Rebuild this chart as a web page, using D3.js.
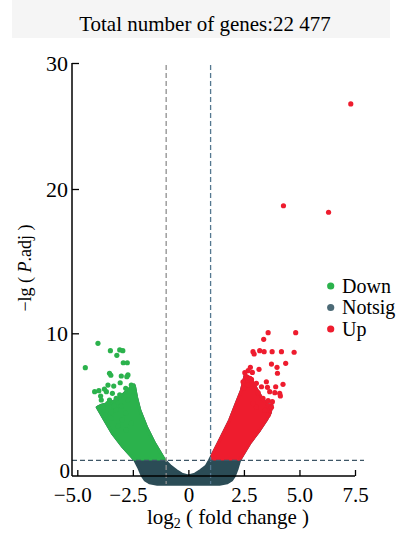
<!DOCTYPE html>
<html>
<head>
<meta charset="utf-8">
<script src="https://cdn.jsdelivr.net/npm/d3@7/dist/d3.min.js"></script>
<style>
  html, body { margin: 0; padding: 0; background: #fff; }
  svg { display: block; }
  text { font-family: "Liberation Serif", "DejaVu Serif", serif; fill: #000; }
</style>
</head>
<body>
<svg id="chart" width="401" height="534"></svg>
<script>
// ---------------- data ----------------
const titleText = "Total number of genes:22 477";
const xTicks = [-5, -2.5, 0, 2.5, 5, 7.5];
const xTickLabels = ["\u22125.0", "\u22122.5", "0", "2.5", "5.0", "7.5"];
const yTicks = [0, 10, 20, 30];
const yTickLabels = ["0", "10", "20", "30"];
const fcThresholds = [-1, 1];
const padjThreshold = 1.15;
const legendLabels = ["Down", "Notsig", "Up"];
const legendColors = ["#2bb24c", "#4c6a76", "#ee1c2e"];

// outline of the densely packed part of the cloud (log2FC, -lg Padj)
const denseOutline = [
  [-2.45, 6.4], [-2.8, 5.95], [-3.1, 5.5], [-3.5, 5.15], [-3.9, 5.0], [-4.1, 4.85],
  [-3.77, 3.96], [-3.4, 3.0], [-2.95, 2.1], [-2.41, 1.18], [-2.22, 0.6], [-2.08, 0.1],
  [-1.95, -0.2], [-1.75, -0.4], [-1.4, -0.5],
  [1.4, -0.5], [1.75, -0.4], [1.95, -0.2], [2.08, 0.1], [2.2, 0.6],
  [2.31, 1.18], [2.76, 2.34], [3.21, 3.27], [3.51, 3.97],
  [3.68, 4.45], [3.76, 5.0], [3.55, 5.05], [3.3, 5.5], [3.0, 6.3], [2.8, 6.9], [2.55, 7.05],
  [2.39, 6.04], [2.16, 5.14], [1.86, 3.96], [1.41, 2.57], [0.96, 1.18], [0.8, 0.75],
  [0.55, 0.45], [0.3, 0.2], [0, 0.07], [-0.3, 0.2], [-0.55, 0.45], [-0.8, 0.75],
  [-1.07, 1.18], [-1.52, 2.34], [-1.89, 3.49], [-2.19, 4.65], [-2.34, 5.58], [-2.42, 6.27]
];

// individually visible down-regulated genes
const downX = [-4.07, -4.64, -3.51, -3.09, -2.95, -3.22, -2.93, -2.75, -3.55, -3.49, -3.02, -2.72,
  -3.07, -3.62, -3.36, -4.22, -4.03, -3.69, -3.42, -3.92, -3.55, -3.25, -2.82, -2.64, -3.84,
  -3.73, -3.47, -3.27, -3.02, -2.82, -2.97, -3.17, -2.79, -2.57, -3.62, -3.36, -3.95, -3.09,
  -2.72, -2.57, -2.77, -3.78, -3.47];
const downY = [9.30, 7.61, 8.79, 8.84, 8.79, 8.47, 7.95, 7.95, 7.22, 7.08, 7.03, 7.10,
  6.56, 6.40, 6.33, 5.94, 6.01, 5.94, 5.82, 5.36, 5.36, 5.47, 6.17, 5.94, 4.85,
  4.31, 4.08, 4.66, 4.94, 4.43, 3.99, 3.55, 3.27, 3.73, 5.13, 4.94, 5.63, 5.71,
  5.36, 6.40, 6.98, 6.12, 4.55];

// individually visible up-regulated genes
const upX = [7.31, 4.28, 6.31, 3.59, 4.83, 3.39, 2.91, 2.96, 3.21, 3.41, 3.77, 4.19, 4.76,
  3.74, 3.99, 4.38, 2.79, 2.69, 2.88, 3.18, 4.01, 2.61, 2.84, 4.26, 3.29, 3.56, 2.49,
  3.14, 3.66, 3.89, 4.11, 4.14, 3.36, 3.59, 3.78, 2.91, 3.06, 3.44, 3.74, 3.59, 2.76,
  2.46, 2.69, 3.93, 3.51, 3.06, 2.54];
const upY = [26.75, 18.84, 18.39, 10.04, 10.04, 9.58, 8.72, 8.56, 8.79, 8.72, 8.72, 8.72, 8.68,
  7.86, 7.63, 7.91, 7.63, 7.40, 7.28, 7.49, 7.22, 6.98, 6.79, 6.45, 6.28, 6.24, 6.17,
  5.87, 5.94, 5.87, 5.82, 5.64, 5.47, 5.31, 5.24, 5.13, 4.85, 4.66, 4.85, 4.31, 6.86,
  6.63, 6.40, 6.28, 6.63, 6.52, 7.26];

// ---------------- drawing ----------------
const W = 401, H = 534;
const svg = d3.select("#chart");

const x = d3.scaleLinear().domain([-5, 7.5]).range([77.3, 355]);
const y = d3.scaleLinear().domain([0, 10, 20, 30]).range([477, 333.3, 189, 63]);

const colDown = legendColors[0], colNot = "#2b4c56", colUp = legendColors[2];

// title band
svg.append("rect").attr("x", 12).attr("y", 0).attr("width", 378).attr("height", 38)
  .attr("fill", "#f5f5f5");
svg.append("text").attr("x", 205).attr("y", 31).attr("text-anchor", "middle")
  .style("font-size", "21px").text(titleText);

// clip paths
const defs = svg.append("defs");
defs.append("clipPath").attr("id", "clipDown").append("rect")
  .attr("x", 0).attr("y", 0).attr("width", x(fcThresholds[0])).attr("height", y(padjThreshold));
defs.append("clipPath").attr("id", "clipUp").append("rect")
  .attr("x", x(fcThresholds[1])).attr("y", 0).attr("width", W - x(fcThresholds[1])).attr("height", y(padjThreshold));

const outline = d3.line().x(d => x(d[0])).y(d => y(d[1])).curve(d3.curveLinearClosed);

[[colNot, null], [colDown, "url(#clipDown)"], [colUp, "url(#clipUp)"]].forEach(([c, clip]) => {
  const p = svg.append("path").attr("d", outline(denseOutline))
    .attr("fill", c).attr("stroke", c).attr("stroke-width", 3).attr("stroke-linejoin", "round");
  if (clip) p.attr("clip-path", clip);
});

function cls(px, py) {
  if (py > padjThreshold && px < fcThresholds[0]) return colDown;
  if (py > padjThreshold && px > fcThresholds[1]) return colUp;
  return colNot;
}

const downPts = downX.map((d, i) => [d, downY[i]]);
const upPts = upX.map((d, i) => [d, upY[i]]);
svg.append("g").selectAll("circle").data(downPts.concat(upPts)).join("circle")
  .attr("cx", d => x(d[0])).attr("cy", d => y(d[1])).attr("r", 2.6)
  .attr("fill", d => cls(d[0], d[1]));

// threshold lines
svg.append("line").attr("x1", x(fcThresholds[0])).attr("x2", x(fcThresholds[0]))
  .attr("y1", 65).attr("y2", 484).attr("stroke", "#8f8f8f").attr("stroke-width", 1.3)
  .attr("stroke-dasharray", "5,3");
svg.append("line").attr("x1", x(fcThresholds[1])).attr("x2", x(fcThresholds[1]))
  .attr("y1", 65).attr("y2", 484).attr("stroke", "#557890").attr("stroke-width", 1.3)
  .attr("stroke-dasharray", "5,3");
svg.append("line").attr("x1", 72).attr("x2", 364)
  .attr("y1", y(padjThreshold)).attr("y2", y(padjThreshold))
  .attr("stroke", "#3e5666").attr("stroke-width", 1.2).attr("stroke-dasharray", "5,3");

// axes
const axisY0 = 476, axisX0 = 72;
const gx = svg.append("g").attr("transform", `translate(0,${axisY0})`)
  .call(d3.axisBottom(x).tickValues(xTicks).tickFormat((d, i) => xTickLabels[i])
    .tickSizeInner(-6).tickSizeOuter(0).tickPadding(11));
gx.select(".domain").remove();
gx.selectAll("line").attr("stroke", "#000").attr("stroke-width", 1.3);
gx.selectAll("text").style("font-size", "21px").style("font-family", "Liberation Serif")
  .attr("dx", d => d < 0 ? -5 : 0);
svg.append("line").attr("x1", axisX0).attr("x2", x(7.5)).attr("y1", axisY0).attr("y2", axisY0)
  .attr("stroke", "#000").attr("stroke-width", 1.5);

const gy = svg.append("g").attr("transform", `translate(${axisX0},0)`)
  .call(d3.axisLeft(y).tickValues(yTicks.slice(1)).tickFormat((d) => yTickLabels[yTicks.indexOf(d)])
    .tickSizeInner(-7).tickSizeOuter(0).tickPadding(4));
gy.select(".domain").remove();
gy.selectAll("line").attr("stroke", "#000").attr("stroke-width", 1.3);
gy.selectAll("text").style("font-size", "22px").style("font-family", "Liberation Serif");
svg.append("line").attr("x1", axisX0).attr("x2", axisX0).attr("y1", y(30)).attr("y2", axisY0)
  .attr("stroke", "#000").attr("stroke-width", 1.5);
svg.append("text").attr("x", 70).attr("y", 478).attr("text-anchor", "end")
  .style("font-size", "21px").text(yTickLabels[0]);

// axis titles
const xl = svg.append("text").attr("x", 228).attr("y", 524).attr("text-anchor", "middle")
  .style("font-size", "21px");
xl.append("tspan").text("log");
xl.append("tspan").attr("dy", 4).style("font-size", "14px").text("2");
xl.append("tspan").attr("dy", -4).text(" ( fold change )");

const yl = svg.append("text").attr("transform", "translate(31,268) rotate(-90)")
  .attr("text-anchor", "middle").style("font-size", "18px");
yl.append("tspan").text("\u2212lg ( ");
yl.append("tspan").style("font-style", "italic").text("P");
yl.append("tspan").text(".adj )");

// legend
const lg = svg.append("g");
legendLabels.forEach((t, i) => {
  const cy = 286 + i * 21.5;
  lg.append("circle").attr("cx", 330.7).attr("cy", cy).attr("r", 3.6).attr("fill", legendColors[i]);
  lg.append("text").attr("x", 342).attr("y", cy + 6.5).style("font-size", "20px").text(t);
});
</script>
</body>
</html>
